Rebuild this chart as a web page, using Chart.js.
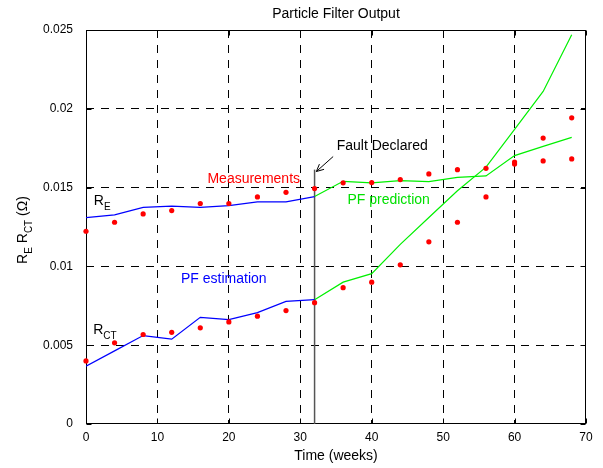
<!DOCTYPE html>
<html><head><meta charset="utf-8">
<script src="https://cdn.jsdelivr.net/npm/chart.js@4"></script>
<style>html,body{margin:0;padding:0;background:#fff}#wrap{width:603px;height:468px}</style>
</head><body><div id="wrap"><canvas id="c" width="603" height="468"></canvas></div>
<script>
const weeks = [0,4,8,12,16,20,24,28,32,36,40,44,48,52,56,60,64,68];
const measRE = [0.01223,0.0128,0.01333,0.01354,0.01399,0.01399,0.01441,0.0147,0.01494,0.0153,0.01532,0.01551,0.01587,0.01614,0.01622,0.01662,0.01669,0.01682];
const measRCT = [0.0040,0.00515,0.00568,0.00582,0.0061,0.00648,0.00684,0.0072,0.0077,0.00865,0.0090,0.0101,0.01156,0.0128,0.01441,0.01649,0.01814,0.01943];
const estWeeks = [0,4,8,12,16,20,24,28,32];
const estRE = [0.0131,0.01327,0.01375,0.01382,0.01375,0.01386,0.0141,0.0141,0.01443];
const estRCT = [0.00367,0.00464,0.00561,0.00538,0.00677,0.00662,0.00707,0.00778,0.00789];
const predWeeks = [32,36,40,44,48,52,56,60,64,68];
const predRE = [0.01443,0.0154,0.0153,0.01544,0.01538,0.01565,0.01574,0.01703,0.01762,0.01819];
const predRCT = [0.00789,0.0090,0.00954,0.0114,0.0131,0.0148,0.0163,0.0187,0.0211,0.0247];
const faultWeek = 32;
const faultTop = 0.01614;
const xTickValues = [0,10,20,30,40,50,60,70];
const yTickValues = [0,0.005,0.01,0.015,0.02,0.025];
const yTickLabels = ['0','0.005','0.01','0.015','0.02','0.025'];

const FONT = '"Liberation Sans", Arial, Helvetica, sans-serif';
const pts = (xs, ys) => xs.map((v, i) => ({x: v, y: ys[i]}));

const deco = {
  id: 'deco',
  beforeDatasetsDraw(chart) {
    const {ctx, chartArea: a, scales: {x, y}} = chart;
    ctx.save();
    ctx.setLineDash([]);
    ctx.strokeStyle = '#000';
    ctx.lineWidth = 1;
    const L = Math.round(a.left) + 0.5, R = Math.round(a.right) - 0.5;
    const T = Math.round(a.top) + 0.5, B = Math.round(a.bottom) - 0.5;
    ctx.strokeRect(L, T, R - L, B - T);
    ctx.beginPath();
    xTickValues.forEach(v => {
      const px = Math.round(x.getPixelForValue(v)) + 0.5;
      ctx.moveTo(px, B); ctx.lineTo(px, B - 5);
      ctx.moveTo(px, T); ctx.lineTo(px, T + 5);
    });
    yTickValues.forEach(v => {
      const py = Math.round(y.getPixelForValue(v)) + 0.5;
      ctx.moveTo(L, py); ctx.lineTo(L + 5, py);
      ctx.moveTo(R, py); ctx.lineTo(R - 5, py);
    });
    ctx.stroke();
    ctx.restore();
  },
  afterDraw(chart) {
    const {ctx, chartArea: a, scales: {x, y}} = chart;
    ctx.save();
    ctx.setLineDash([]);
    // title & x label
    ctx.fillStyle = '#000';
    ctx.font = '14px ' + FONT;
    ctx.textAlign = 'center';
    ctx.textBaseline = 'alphabetic';
    ctx.fillText('Particle Filter Output', (a.left + a.right) / 2, 18);
    ctx.fillText('Time (weeks)', (a.left + a.right) / 2, 460);

    const rich = (parts, px, py, color) => {
      ctx.fillStyle = color;
      ctx.textAlign = 'left';
      let cx = px;
      parts.forEach(p => {
        ctx.font = (p.sub ? '10px ' : '14px ') + FONT;
        ctx.fillText(p.t, cx, py + (p.sub ? 5 : 0));
        cx += ctx.measureText(p.t).width;
      });
      return cx - px;
    };
    const measure = parts => parts.reduce((s, p) => {
      ctx.font = (p.sub ? '10px ' : '14px ') + FONT; return s + ctx.measureText(p.t).width;
    }, 0);

    const yl = [{t:'R'},{t:'E',sub:true},{t:' R'},{t:'CT',sub:true},{t:' (\u03A9)'}];
    ctx.save();
    ctx.translate(27, (a.top + a.bottom) / 2 + 3);
    ctx.rotate(-Math.PI / 2);
    rich(yl, -measure(yl) / 2, 0, '#000');
    ctx.restore();

    const P = (wx, wy) => [x.getPixelForValue(wx), y.getPixelForValue(wy)];
    let [tx, ty] = P(1.1, 0.0139);
    rich([{t:'R'},{t:'E',sub:true}], tx, ty, '#000');
    [tx, ty] = P(1.0, 0.00574);
    rich([{t:'R'},{t:'CT',sub:true}], tx, ty, '#000');
    ctx.font = '14px ' + FONT;
    ctx.textAlign = 'left';
    ctx.textBaseline = 'middle';
    ctx.fillStyle = '#ff0000';
    [tx, ty] = P(17.0, 0.01556); ctx.fillText('Measurements', tx, ty);
    ctx.fillStyle = '#00e000';
    [tx, ty] = P(36.6, 0.01423); ctx.fillText('PF prediction', tx, ty);
    ctx.fillStyle = '#0000ff';
    [tx, ty] = P(13.3, 0.00916); ctx.fillText('PF estimation', tx, ty);
    ctx.fillStyle = '#000';
    [tx, ty] = P(35.1, 0.0176); ctx.fillText('Fault Declared', tx, ty);

    const [x0, y0] = P(34.6, 0.01697);
    const [x1, y1] = P(32.25, 0.01602);
    ctx.strokeStyle = '#000';
    ctx.lineWidth = 1;
    ctx.beginPath();
    ctx.moveTo(x0, y0); ctx.lineTo(x1, y1);
    const ang = Math.atan2(y1 - y0, x1 - x0);
    const hl = 8, hw = 0.45;
    ctx.moveTo(x1, y1); ctx.lineTo(x1 - hl * Math.cos(ang - hw), y1 - hl * Math.sin(ang - hw));
    ctx.moveTo(x1, y1); ctx.lineTo(x1 - hl * Math.cos(ang + hw), y1 - hl * Math.sin(ang + hw));
    ctx.stroke();
    ctx.restore();
  }
};

const dotDs = (ys) => ({
  data: pts(weeks, ys), showLine: false, pointRadius: 2.6, pointBackgroundColor: '#ff0000',
  pointBorderWidth: 0, borderColor: '#ff0000', clip: false
});
const lineDs = (xs, ys, col, w) => ({
  data: pts(xs, ys), showLine: true, pointRadius: 0, borderColor: col, borderWidth: w || 1.2, fill: false, tension: 0
});

new Chart(document.getElementById('c'), {
  type: 'scatter',
  data: {
    datasets: [
      dotDs(measRE),
      dotDs(measRCT),
      lineDs(estWeeks, estRE, '#0000ff'),
      lineDs(estWeeks, estRCT, '#0000ff'),
      lineDs(predWeeks, predRE, '#00f000'),
      lineDs(predWeeks, predRCT, '#00f000'),
      lineDs([faultWeek, faultWeek], [0, faultTop], '#555555', 1.5)
    ]
  },
  options: {
    responsive: false,
    animation: false,
    events: [],
    layout: {padding: {top: 30, right: 17, left: 0, bottom: 0}},
    plugins: {legend: {display: false}, tooltip: {enabled: false}},
    scales: {
      x: {
        type: 'linear', min: 0, max: 70,
        afterBuildTicks: s => { s.ticks = xTickValues.map(v => ({value: v})); },
        afterFit: s => { s.height = 44; },
        ticks: {color: '#000', font: {size: 12, family: FONT}, padding: 6, maxRotation: 0, autoSkip: false},
        grid: {drawTicks: false, lineWidth: 1,
          color: c => (c.index === 0 || c.index === xTickValues.length - 1) ? 'rgba(0,0,0,0)' : '#000'},
        border: {display: false, dash: [8, 7]}
      },
      y: {
        type: 'linear', min: 0, max: 0.025,
        afterBuildTicks: s => { s.ticks = yTickValues.map(v => ({value: v})); },
        afterFit: s => { s.width = 86; },
        ticks: {color: '#000', font: {size: 12, family: FONT}, padding: 13, autoSkip: false,
          callback: (v, i) => yTickLabels[i]},
        grid: {drawTicks: false, lineWidth: 1,
          color: c => (c.index === 0 || c.index === yTickValues.length - 1) ? 'rgba(0,0,0,0)' : '#000'},
        border: {display: false, dash: [8, 7]}
      }
    }
  },
  plugins: [deco]
});
</script></body></html>
